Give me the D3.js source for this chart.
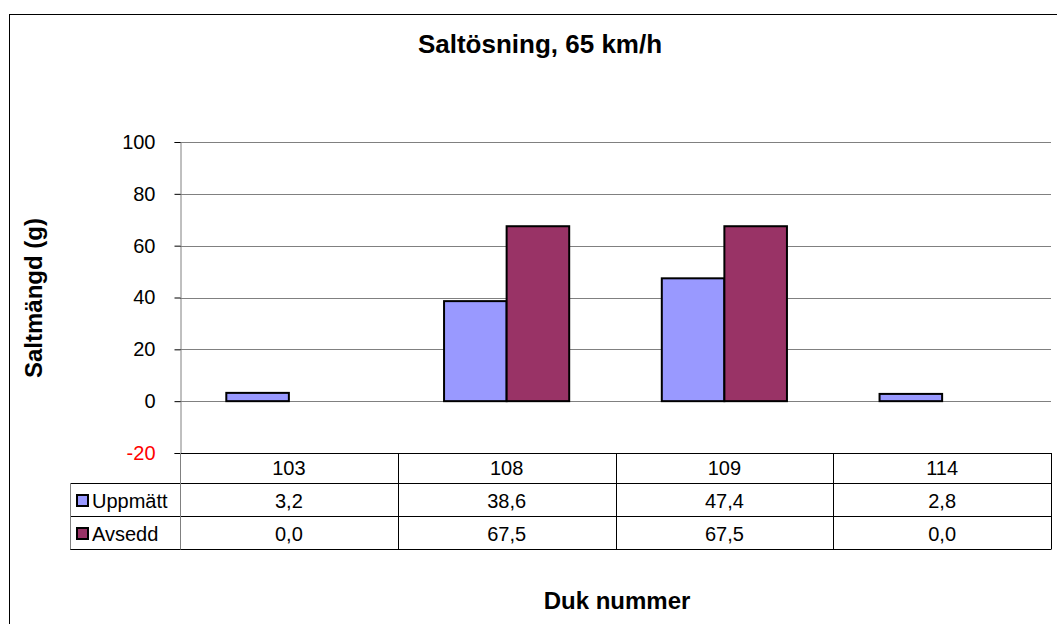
<!DOCTYPE html>
<html>
<head>
<meta charset="utf-8">
<script src="https://cdn.jsdelivr.net/npm/d3@7"></script>
<style>
  html, body { margin: 0; padding: 0; background: #fff; }
  svg { display: block; font-family: "Liberation Sans", Arial, sans-serif; }
</style>
</head>
<body>
<svg id="chart" width="1057" height="624"></svg>
<script>
// Chart data
const categories = ["103", "108", "109", "114"];
const seriesNames = ["Uppmätt", "Avsedd"];
const uppmatt = [3.2, 38.6, 47.4, 2.8];
const avsedd = [0.0, 67.5, 67.5, 0.0];
const yTicks = [-20, 0, 20, 40, 60, 80, 100];
const seriesColors = ["#9999FF", "#993366"];

const seriesValues = [uppmatt, avsedd];
const fmt = v => v.toFixed(1).replace(".", ",");

const svg = d3.select("#chart");

// Outer chart frame
svg.append("rect")
  .attr("x", 9.5).attr("y", 14.5)
  .attr("width", 1060).attr("height", 620)
  .attr("fill", "#fff").attr("stroke", "#000").attr("stroke-width", 1);

const plot = { left: 180, right: 1051, top: 142, bottom: 453 };

const x = d3.scaleBand().domain(categories).range([plot.left, plot.right]).padding(0);
const xSub = d3.scaleBand().domain(seriesNames).range([0, x.bandwidth()])
  .paddingInner(0).paddingOuter(0.74);
const y = d3.scaleLinear().domain([-20, 100]).range([plot.bottom, plot.top]);

// Gridlines
svg.append("g")
  .selectAll("line")
  .data(yTicks.filter(t => t > -20))
  .join("line")
  .attr("x1", plot.left).attr("x2", plot.right)
  .attr("y1", d => Math.round(y(d)) + 0.5).attr("y2", d => Math.round(y(d)) + 0.5)
  .attr("stroke", "#808080").attr("stroke-width", 1);

// Y axis (plain hyphen for negatives)
const yAxis = d3.axisLeft(y).tickValues(yTicks).tickSize(6).tickPadding(19)
  .tickFormat(d => String(d));
const gy = svg.append("g")
  .attr("transform", `translate(${plot.left + 0.5},0)`)
  .call(yAxis);
gy.select(".domain").attr("stroke", "#808080");
gy.selectAll(".tick line").attr("stroke", "#000");
gy.selectAll(".tick text")
  .attr("font-size", 20)
  .attr("font-family", "Liberation Sans, Arial, sans-serif")
  .attr("fill", d => d < 0 ? "#FF0000" : "#000");

// Bars
const groups = svg.append("g").selectAll("g")
  .data(categories)
  .join("g")
  .attr("transform", d => `translate(${x(d)},0)`);

groups.selectAll("rect")
  .data((c, i) => seriesNames.map((s, k) => ({ s, k, v: seriesValues[k][i] })))
  .join("rect")
  .attr("x", d => xSub(d.s))
  .attr("width", xSub.bandwidth())
  .attr("y", d => y(Math.max(0, d.v)))
  .attr("height", d => Math.abs(y(d.v) - y(0)))
  .attr("fill", d => seriesColors[d.k])
  .attr("stroke", d => d.v === 0 ? "none" : "#000")
  .attr("stroke-width", 2);

// Data table under the plot
const legendLeft = 70;
const table = svg.append("g").attr("stroke", "#000").attr("stroke-width", 1);

// horizontal lines
table.append("line").attr("x1", plot.left).attr("x2", plot.right).attr("y1", 453.5).attr("y2", 453.5);
[483.5, 516.5, 549.5].forEach(yy => {
  table.append("line").attr("x1", legendLeft).attr("x2", plot.right).attr("y1", yy).attr("y2", yy);
});
// vertical lines
categories.forEach(c => {
  table.append("line").attr("x1", Math.round(x(c)) + 0.5).attr("x2", Math.round(x(c)) + 0.5)
    .attr("y1", 453).attr("y2", 549.5)
    .attr("stroke", c === categories[0] ? "#808080" : "#000");
});
table.append("line").attr("x1", plot.right + 0.5).attr("x2", plot.right + 0.5).attr("y1", 453).attr("y2", 549.5);
table.append("line").attr("x1", legendLeft + 0.5).attr("x2", legendLeft + 0.5).attr("y1", 483).attr("y2", 549.5)
  .attr("stroke", "#808080");

// category labels
svg.append("g").selectAll("text")
  .data(categories)
  .join("text")
  .attr("x", d => x(d) + x.bandwidth() / 2)
  .attr("y", 475)
  .attr("text-anchor", "middle")
  .attr("font-size", 20)
  .text(d => d);

// values + legend rows
seriesNames.forEach((s, k) => {
  const base = k === 0 ? 508 : 541;
  svg.append("rect")
    .attr("x", 77).attr("y", base - 13)
    .attr("width", 11).attr("height", 11)
    .attr("fill", seriesColors[k]).attr("stroke", "#000").attr("stroke-width", 2);
  svg.append("text")
    .attr("x", 92).attr("y", base)
    .attr("font-size", 20)
    .text(s);
  svg.append("g").selectAll("text")
    .data(seriesValues[k])
    .join("text")
    .attr("x", (d, i) => x(categories[i]) + x.bandwidth() / 2)
    .attr("y", base)
    .attr("text-anchor", "middle")
    .attr("font-size", 20)
    .text(d => fmt(d));
});

// Titles
svg.append("text")
  .attr("x", 540).attr("y", 53)
  .attr("text-anchor", "middle")
  .attr("font-size", 26).attr("font-weight", "bold")
  .text("Saltösning, 65 km/h");

svg.append("text")
  .attr("transform", "translate(42,298) rotate(-90)")
  .attr("text-anchor", "middle")
  .attr("font-size", 24).attr("font-weight", "bold")
  .text("Saltmängd (g)");

svg.append("text")
  .attr("x", 617).attr("y", 609)
  .attr("text-anchor", "middle")
  .attr("font-size", 24).attr("font-weight", "bold")
  .text("Duk nummer");
</script>
</body>
</html>
